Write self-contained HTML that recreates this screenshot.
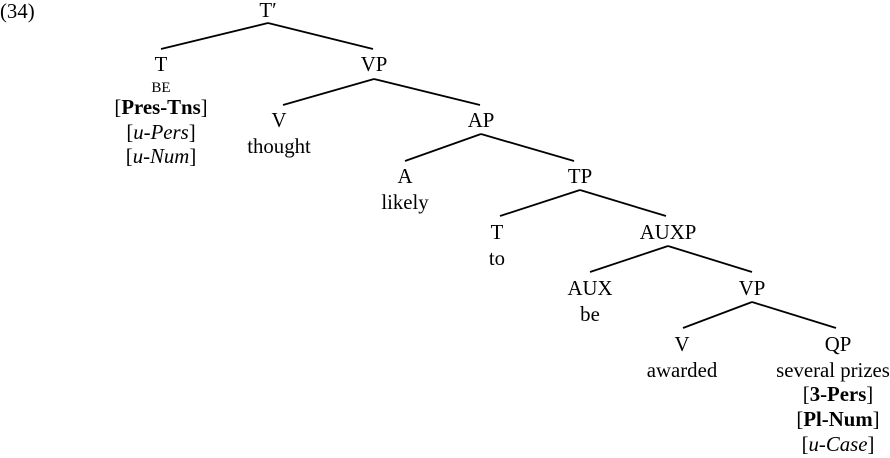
<!DOCTYPE html>
<html><head><meta charset="utf-8"><style>
html,body{margin:0;padding:0;background:#fff;}
svg{display:block;}
text{font-family:"Liberation Serif",serif;font-size:20.8px;fill:#000;}
.s{font-size:15px;}
.b{font-weight:bold;}
</style></head><body>
<svg width="890" height="458" viewBox="0 0 890 458" xmlns="http://www.w3.org/2000/svg">
<g stroke="#000" stroke-width="1.8" fill="none">
<line x1="268" y1="23" x2="161" y2="49"/><line x1="268" y1="23" x2="373" y2="49"/>
<line x1="374" y1="79" x2="283" y2="105"/><line x1="374" y1="79" x2="480" y2="105"/>
<line x1="481" y1="134" x2="405" y2="161"/><line x1="481" y1="134" x2="574" y2="161"/>
<line x1="580" y1="190" x2="500" y2="216"/><line x1="580" y1="190" x2="666" y2="216"/>
<line x1="668" y1="246" x2="590" y2="272"/><line x1="668" y1="246" x2="752" y2="272"/>
<line x1="752" y1="302" x2="683" y2="328"/><line x1="752" y1="302" x2="836" y2="328"/>
</g>
<g text-anchor="middle">
<text x="268" y="17">T′</text>
<text x="161" y="71">T</text>
<text class="s" x="161" y="92">BE</text>
<text x="161" y="114">[<tspan class="b">Pres-Tns</tspan>]</text>
<text x="161" y="139">[<tspan font-style="italic">u-Pers</tspan>]</text>
<text x="161" y="163">[<tspan font-style="italic">u-Num</tspan>]</text>
<text x="374" y="71">VP</text>
<text x="279" y="127">V</text>
<text x="279" y="153">thought</text>
<text x="481" y="127">AP</text>
<text x="405" y="183">A</text>
<text x="405" y="209">likely</text>
<text x="580" y="183">TP</text>
<text x="497" y="239">T</text>
<text x="497" y="265">to</text>
<text x="668" y="239">AUXP</text>
<text x="590" y="295">AUX</text>
<text x="590" y="321">be</text>
<text x="752" y="295">VP</text>
<text x="682" y="351">V</text>
<text x="682" y="377">awarded</text>
<text x="838" y="351">QP</text>
<text x="833" y="377">several prizes</text>
<text x="838" y="401">[<tspan class="b">3-Pers</tspan>]</text>
<text x="838" y="426">[<tspan class="b">Pl-Num</tspan>]</text>
<text x="838" y="451">[<tspan font-style="italic">u-Case</tspan>]</text>
</g>
<text x="0" y="18">(34)</text>
</svg>
</body></html>
